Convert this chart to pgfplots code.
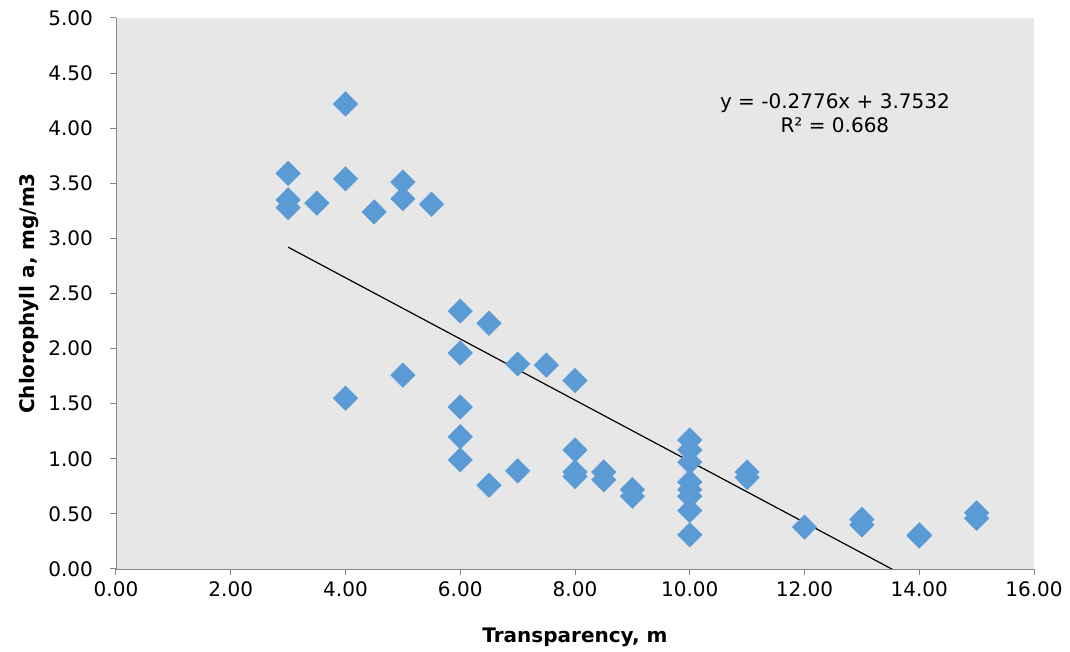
\documentclass[border=0pt]{standalone}
\usepackage{pgfplots}
\pgfplotsset{compat=1.18}
\usepackage{fontspec}
\setmainfont{DejaVu Sans}
\definecolor{ptblue}{RGB}{91,155,213}
\definecolor{plotbg}{RGB}{231,231,231}
\definecolor{axgray}{RGB}{134,134,134}
\begin{document}
\begin{tikzpicture}
\useasboundingbox (-58pt,-41.5pt) rectangle (477pt,284.5pt);
\begin{axis}[
    scale only axis,
    width=459pt, height=275.5pt,
    xmin=0, xmax=16, ymin=0, ymax=5,
    xtick={0,2,...,16}, ytick={0,0.5,...,5},
    axis background/.style={fill=plotbg},
    axis line style={axgray},
    axis x line*=bottom, axis y line*=left,
    every outer x axis line/.append style={-},
    every outer y axis line/.append style={-},
    tick style={axgray, line width=0.5pt},
    tick align=outside, major tick length=3pt,
    xticklabel style={/pgf/number format/.cd, fixed, fixed zerofill, precision=2},
    yticklabel style={xshift=-5pt, /pgf/number format/.cd, fixed, fixed zerofill, precision=2},
    /pgf/number format/assume math mode=true,
    tick label style={font=\fontsize{10}{12}\selectfont},
    label style={font=\fontsize{10}{12}\selectfont\bfseries},
    xlabel={Transparency, m},
    ylabel={Chlorophyll a, mg/m3},
    xlabel style={yshift=-8.5pt},
    ylabel style={yshift=-2pt},
]
\addplot[only marks, mark=square*, mark size=4.25pt,
    mark options={rotate=45, fill=ptblue, draw=ptblue}] coordinates {
    (3,3.59) (3,3.35) (3,3.28)
    (3.5,3.32)
    (4,4.22) (4,3.54) (4,1.55)
    (4.5,3.24)
    (5,3.51) (5,3.36) (5,1.76)
    (5.5,3.31)
    (6,2.34) (6,1.96) (6,1.47) (6,1.20) (6,0.99)
    (6.5,2.23) (6.5,0.76)
    (7,1.86) (7,0.89)
    (7.5,1.85)
    (8,1.71) (8,1.08) (8,0.88) (8,0.84)
    (8.5,0.88) (8.5,0.81)
    (9,0.72) (9,0.66)
    (10,1.17) (10,1.08) (10,0.97) (10,0.79) (10,0.72) (10,0.66) (10,0.53) (10,0.31)
    (11,0.88) (11,0.83)
    (12,0.38)
    (13,0.45) (13,0.40)
    (14,0.31) (14,0.30)
    (15,0.51) (15,0.46)
};
\addplot[black, line width=0.6pt] coordinates {(3,2.9204) (15,-0.4108)};
\node[font=\fontsize{10}{12}\selectfont, align=center] at (axis cs:12.53,4.14)
    {y = -0.2776x + 3.7532\\R² = 0.668};
\end{axis}
\end{tikzpicture}
\end{document}
